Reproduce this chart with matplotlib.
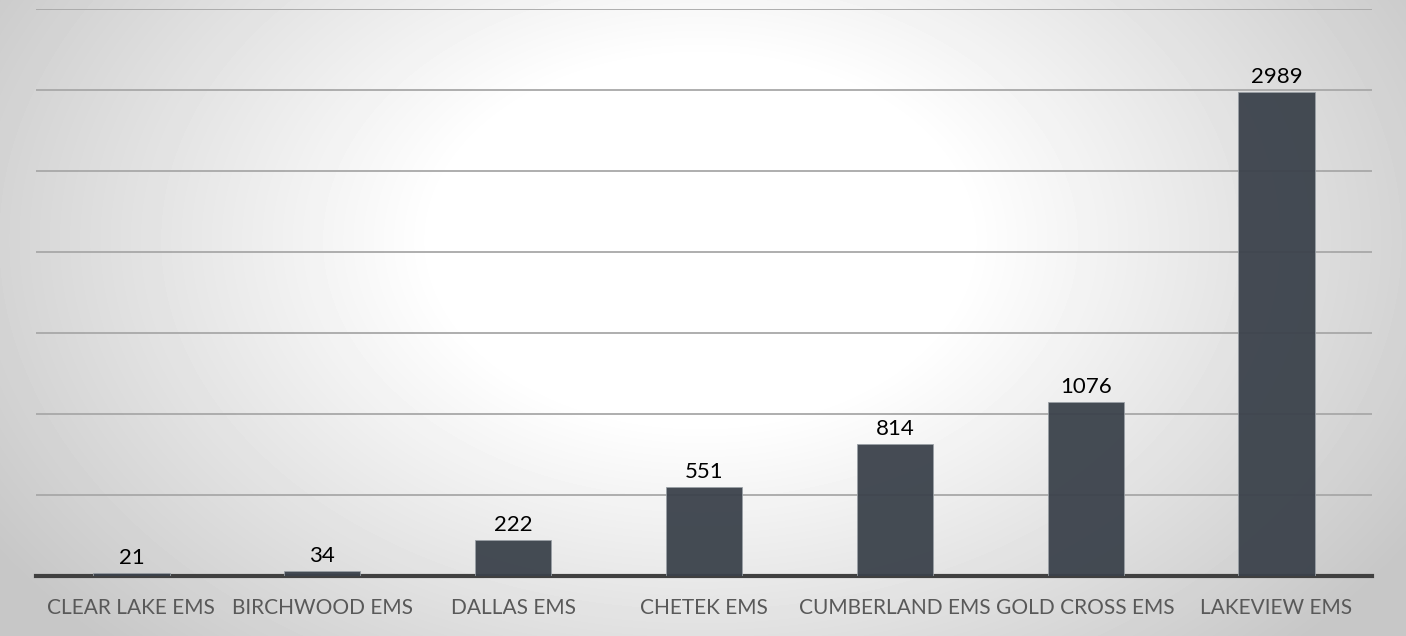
import numpy as np
import matplotlib.pyplot as plt

# Data
services = ["CLEAR LAKE EMS", "BIRCHWOOD EMS", "DALLAS EMS", "CHETEK EMS",
            "CUMBERLAND EMS", "GOLD CROSS EMS", "LAKEVIEW EMS"]
calls = [21, 34, 222, 551, 814, 1076, 2989]

fig = plt.figure(figsize=(14.06, 6.36), dpi=100)

# radial gradient background
bg = fig.add_axes([0, 0, 1, 1], zorder=0)
yy, xx = np.mgrid[0:636, 0:1406]
r = np.sqrt(((xx - 700) / 760.0) ** 2 + ((yy - 240) / 520.0) ** 2)
shade = 1.0 - 0.22 * np.clip((r - 0.35) / 0.75, 0, 1)
bg.imshow(shade, cmap="gray", vmin=0, vmax=1, aspect="auto", extent=[0, 1, 0, 1])
bg.axis("off")

ax = fig.add_axes([0.0256, 0.0943, 0.9502, 0.8915], zorder=1)
ax.patch.set_alpha(0)

x = np.arange(len(services))
bars = ax.bar(x, calls, width=0.4, color="#3b424b", alpha=0.95,
              edgecolor="#9aa0a6", linewidth=0.6, zorder=3)

for xi, v in zip(x, calls):
    ax.text(xi, v + 30, str(v), ha="center", va="bottom", fontsize=16,
            family="Lato", color="black", zorder=4)

ax.set_xlim(-0.5, len(services) - 0.5)
ax.set_ylim(0, 3500)
ax.set_yticks(np.arange(500, 3501, 500))
ax.yaxis.grid(True, color="#a8a8a8", linewidth=1.3, zorder=1)
ax.set_axisbelow(True)
ax.tick_params(axis="y", left=False, labelleft=False)
ax.tick_params(axis="x", length=0, pad=16)
ax.set_xticks(x)
ax.set_xticklabels(services, fontsize=15, family="Lato", color="#595959")

for s in ["top", "right", "left"]:
    ax.spines[s].set_visible(False)
ax.spines["bottom"].set_color("#404040")
ax.spines["bottom"].set_linewidth(3)

plt.savefig("out.png", dpi=100)
